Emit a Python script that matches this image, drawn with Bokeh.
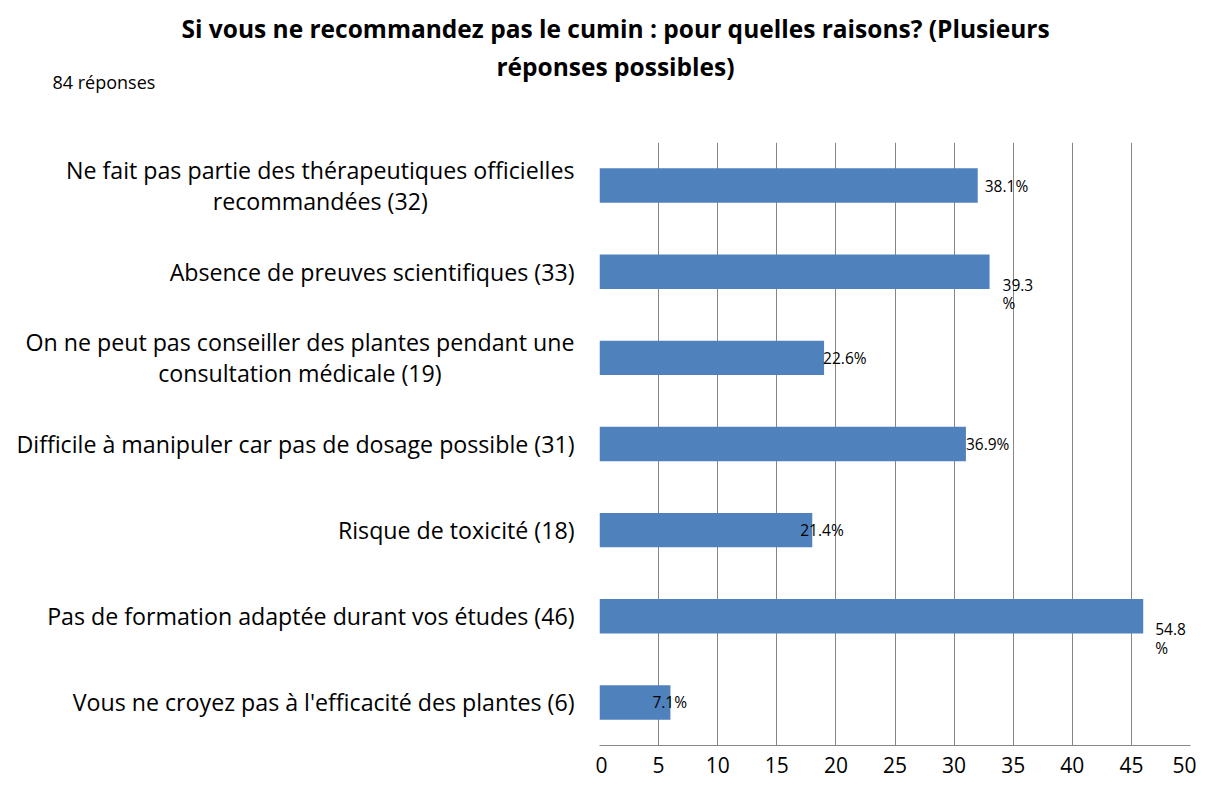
from bokeh.plotting import figure
from bokeh.models import Range1d, FixedTicker
from bokeh.layouts import column, row
from bokeh.core.properties import value
from bokeh.embed import file_html
from bokeh.resources import INLINE

categories = [
    "Ne fait pas partie des thérapeutiques officielles\nrecommandées (32)",
    "Absence de preuves scientifiques (33)",
    "On ne peut pas conseiller des plantes pendant une\nconsultation médicale (19)",
    "Difficile à manipuler car pas de dosage possible (31)",
    "Risque de toxicité (18)",
    "Pas de formation adaptée durant vos études (46)",
    "Vous ne croyez pas à l'efficacité des plantes (6)",
]
counts = [32, 33, 19, 31, 18, 46, 6]
pct_labels = ["38.1%", "39.3\n%", "22.6%", "36.9%", "21.4%", "54.8\n%", "7.1%"]
x_ticks = [0, 5, 10, 15, 20, 25, 30, 35, 40, 45, 50]
title_lines = ["Si vous ne recommandez pas le cumin : pour quelles raisons? (Plusieurs",
               "réponses possibles)"]
subtitle_text = "84 réponses"

# label placement tweaks (pixels) relative to bar ends
label_dx = [7, 13, -1, 0, -12, 12, -18]

FONT = "Open Sans"
GRAY = "#868686"
BAR = "#4F81BD"

TOTAL_W, TOTAL_H = 1196, 780
HEAD_H = 142          # space above plot frame
LABEL_W = 595         # width of category-label panel
PAD_L, PAD_R, PAD_B = 4, 6, 35
PLOT_W = TOTAL_W - LABEL_W
BODY_H = TOTAL_H - HEAD_H

n = len(categories)
ys = list(range(n))
yr = Range1d(n - 0.5, -0.5)


def blank(fig):
    fig.axis.visible = False
    fig.grid.visible = False
    fig.outline_line_color = None
    fig.background_fill_color = "white"
    fig.border_fill_color = "white"
    fig.title.visible = False
    fig.min_border = 0


# --- header (title + subtitle) ---
head = figure(width=TOTAL_W, height=HEAD_H, output_backend="svg", toolbar_location=None,
              x_range=Range1d(0, TOTAL_W), y_range=Range1d(HEAD_H, 0))
blank(head)
head.text(x=[615, 615], y=[28, 66], text=title_lines, text_align="center",
          text_baseline="middle", text_font=value(FONT), text_font_size="24.5px",
          text_font_style="bold", text_color="black")
head.text(x=[52], y=[81], text=[subtitle_text], text_align="left",
          text_baseline="middle", text_font=value(FONT), text_font_size="18px",
          text_color="black")

# --- category labels panel ---
lab = figure(width=LABEL_W, height=BODY_H, output_backend="svg", toolbar_location=None,
             x_range=Range1d(0, LABEL_W), y_range=yr)
blank(lab)
lab.min_border_bottom = PAD_B
lab.text(x=[LABEL_W - 21] * n, y=ys, text=categories, anchor="center_right",
         text_align="center", text_baseline="middle", text_font=value(FONT),
         text_font_size="23.2px", text_color="black", text_line_height=0.97)

# --- bar chart ---
p = figure(width=PLOT_W, height=BODY_H, output_backend="svg", toolbar_location=None,
           x_range=Range1d(x_ticks[0], x_ticks[-1]), y_range=yr,
           min_border_left=PAD_L, min_border_right=PAD_R,
           min_border_top=0, min_border_bottom=PAD_B)
p.title.visible = False
p.outline_line_color = None
p.background_fill_color = "white"
p.border_fill_color = "white"

p.hbar(y=ys, right=counts, left=0, height=0.4, color=BAR, line_color=None)

p.yaxis.visible = False
p.ygrid.visible = False
p.xgrid.ticker = FixedTicker(ticks=x_ticks)
p.xgrid.grid_line_color = GRAY
p.xgrid.grid_line_width = 1
p.xaxis.ticker = FixedTicker(ticks=x_ticks)
p.xaxis.axis_line_color = GRAY
p.xaxis.major_tick_line_color = None
p.xaxis.minor_tick_line_color = None
p.xaxis.major_label_text_font = FONT
p.xaxis.major_label_text_font_size = "21px"
p.xaxis.major_label_text_color = "black"
p.xaxis.major_label_standoff = 5

wrapped = ["\n" in s for s in pct_labels]
p.text(x=counts, y=ys, text=pct_labels, x_offset=label_dx,
       y_offset=[2 if w else 0 for w in wrapped],
       anchor=["top_left" if w else "center_left" for w in wrapped],
       text_font=value(FONT), text_font_size="15.5px", text_color="black",
       text_line_height=0.85)

layout = column(head, row(lab, p, spacing=0), spacing=0)
open("out.html", "w").write(file_html(layout, INLINE))
